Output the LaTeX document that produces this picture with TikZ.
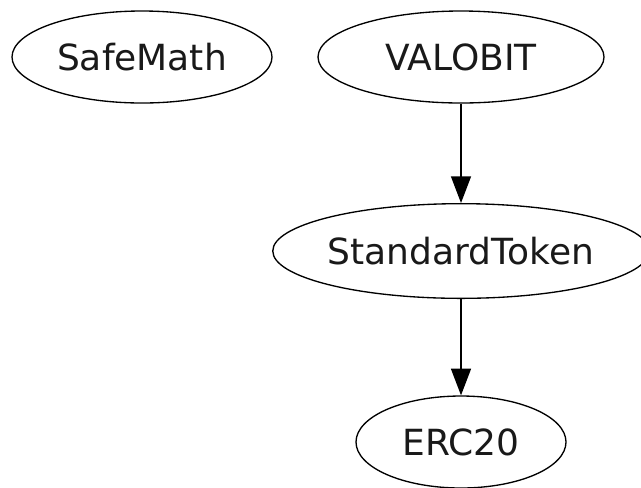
\documentclass[tikz,border=0pt]{standalone}
\usepackage{fontspec}
\setmainfont{DejaVu Sans}
\usetikzlibrary{shapes.geometric,arrows.meta}
\begin{document}
\begin{tikzpicture}[x=0.75pt,y=-0.75pt,
  cls/.style={ellipse,draw=black,line width=1pt,inner sep=0pt,font=\fontsize{27pt}{32pt}\selectfont,text=black!90},
  dep/.style={draw=black,line width=1pt,-{Triangle[length=20pt,width=15pt]}}]
\useasboundingbox (0,0) rectangle (641,487);
\node[cls,minimum width=195pt,minimum height=69pt] (safemath) at (142,57) {SafeMath};
\node[cls,minimum width=214.5pt,minimum height=69pt] (valobit) at (461,57) {VALOBIT};
\node[cls,minimum width=271.5pt,minimum height=71pt] (standard) at (461,251) {StandardToken};
\node[cls,minimum width=157.5pt,minimum height=69pt] (erc20) at (461,442) {ERC20};
\draw[dep] (valobit) -- (standard);
\draw[dep] (standard) -- (erc20);
\end{tikzpicture}
\end{document}
